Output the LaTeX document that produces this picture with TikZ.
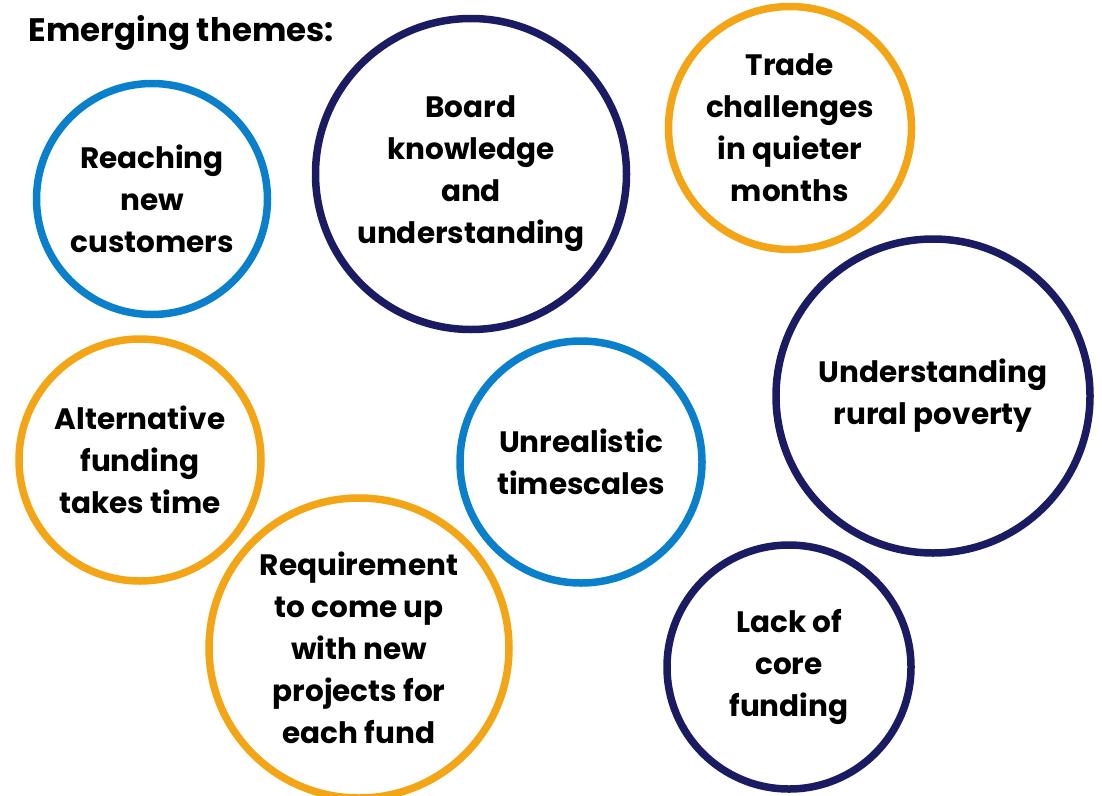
\documentclass[tikz,border=0pt]{standalone}
\usepackage{fontspec}
\setmainfont{Poppins}
\usepackage{tikz}
\definecolor{themeblue}{HTML}{0A7FCC}
\definecolor{themenavy}{HTML}{1B1B63}
\definecolor{themeorange}{HTML}{F4A516}

\begin{document}
\begin{tikzpicture}[
      x=1pt, y=-1pt,
      theme/.style={circle,draw,line width=7.5pt,align=center,inner sep=0pt,
        font=\fontsize{29.5}{42}\selectfont\bfseries},
      blue/.style={theme,draw=themeblue},
      navy/.style={theme,draw=themenavy},
      orange/.style={theme,draw=themeorange}
    ]
    \useasboundingbox (0,0) rectangle (1102,795);
    \node[anchor=west,font=\fontsize{32.5}{38}\selectfont\bfseries] (title) at (25,33) {Emerging themes:};

    \node[blue, minimum size=231] (reach) at (152,199) {Reaching\\new\\customers};
    \node[navy, minimum size=311] (board) at (471,174) {Board\\knowledge\\and\\understanding};
    \node[orange, minimum size=243] (trade) at (790,128) {Trade\\challenges\\in quieter\\months};
    \node[navy, minimum size=314] (rural) at (933,396) {Understanding\\rural poverty};
    \node[orange, minimum size=242] (altfund) at (140,460) {Alternative\\funding\\takes time};
    \node[blue, minimum size=242] (unreal) at (581,462) {Unrealistic\\timescales};
    \node[orange, minimum size=300] (require) at (359,648) {Requirement\\to come up\\with new\\projects for\\each fund};
    \node[navy, minimum size=244] (lack) at (789,667) {Lack of\\core\\funding};
  \end{tikzpicture}
\end{document}
